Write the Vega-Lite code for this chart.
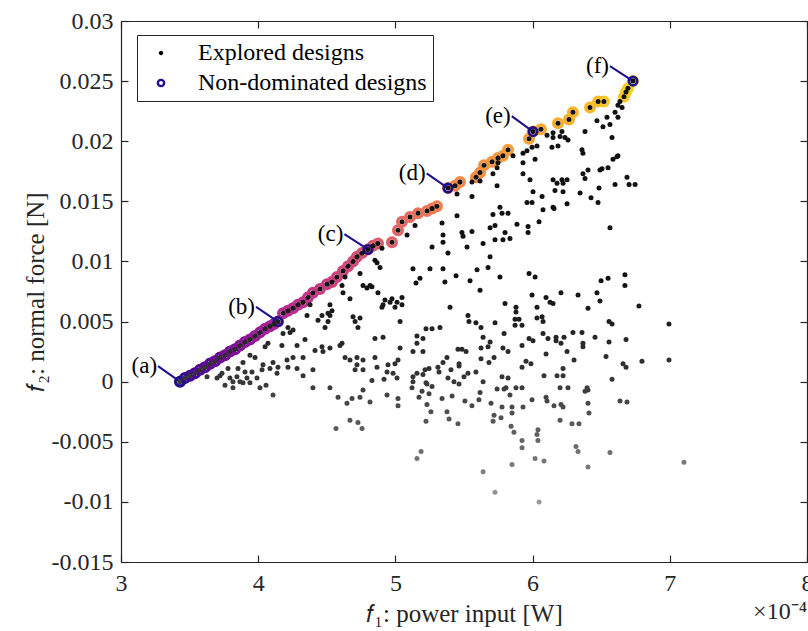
{
  "$schema": "https://vega.github.io/schema/vega-lite/v6.json",
  "width": 686,
  "height": 541,
  "autosize": {"type": "none"},
  "padding": {"left": 121, "top": 21, "right": 1, "bottom": 69},
  "config": {"view": {"stroke": null}, "font": "Liberation Serif"},
  "datasets": {
    "pts": [
      {"f1":3.430,"f2":0.0000,"k":1},{"f1":3.466,"f2":0.0003,"k":2},{"f1":3.503,"f2":0.0005,"k":3},{"f1":3.539,"f2":0.0007,"k":4},{"f1":3.576,"f2":0.0010,"k":5},{"f1":3.612,"f2":0.0012,"k":6},{"f1":3.649,"f2":0.0015,"k":7},{"f1":3.685,"f2":0.0017,"k":8},{"f1":3.722,"f2":0.0020,"k":9},{"f1":3.758,"f2":0.0022,"k":10},{"f1":3.794,"f2":0.0025,"k":11},{"f1":3.831,"f2":0.0027,"k":12},{"f1":3.867,"f2":0.0030,"k":13},{"f1":3.904,"f2":0.0033,"k":14},{"f1":3.940,"f2":0.0035,"k":15},{"f1":3.977,"f2":0.0038,"k":16},{"f1":4.013,"f2":0.0041,"k":17},{"f1":4.050,"f2":0.0044,"k":18},{"f1":4.086,"f2":0.0046,"k":19},{"f1":4.115,"f2":0.0048,"k":20},{"f1":4.144,"f2":0.0050,"k":21},{"f1":4.181,"f2":0.0057,"k":22},{"f1":4.217,"f2":0.0059,"k":23},{"f1":4.254,"f2":0.0061,"k":24},{"f1":4.290,"f2":0.0064,"k":25},{"f1":4.327,"f2":0.0066,"k":26},{"f1":4.363,"f2":0.0070,"k":27},{"f1":4.399,"f2":0.0074,"k":28},{"f1":4.450,"f2":0.0077,"k":29},{"f1":4.501,"f2":0.0081,"k":30},{"f1":4.538,"f2":0.0083,"k":31},{"f1":4.574,"f2":0.0087,"k":32},{"f1":4.618,"f2":0.0092,"k":33},{"f1":4.655,"f2":0.0096,"k":34},{"f1":4.691,"f2":0.0100,"k":35},{"f1":4.720,"f2":0.0104,"k":36},{"f1":4.757,"f2":0.0107,"k":37},{"f1":4.800,"f2":0.0110,"k":38},{"f1":4.837,"f2":0.0113,"k":39},{"f1":4.873,"f2":0.0115,"k":40},{"f1":4.975,"f2":0.0116,"k":41},{"f1":5.019,"f2":0.0126,"k":42},{"f1":5.048,"f2":0.0133,"k":43},{"f1":5.106,"f2":0.0137,"k":44},{"f1":5.165,"f2":0.0140,"k":45},{"f1":5.230,"f2":0.0142,"k":46},{"f1":5.267,"f2":0.0144,"k":47},{"f1":5.303,"f2":0.0146,"k":48},{"f1":5.383,"f2":0.0161,"k":49},{"f1":5.434,"f2":0.0163,"k":50},{"f1":5.471,"f2":0.0166,"k":51},{"f1":5.587,"f2":0.0170,"k":52},{"f1":5.617,"f2":0.0174,"k":53},{"f1":5.646,"f2":0.0180,"k":54},{"f1":5.704,"f2":0.0183,"k":55},{"f1":5.748,"f2":0.0186,"k":56},{"f1":5.784,"f2":0.0188,"k":57},{"f1":5.821,"f2":0.0193,"k":58},{"f1":5.974,"f2":0.0202,"k":59},{"f1":6.003,"f2":0.0208,"k":60},{"f1":6.061,"f2":0.0210,"k":61},{"f1":6.185,"f2":0.0215,"k":62},{"f1":6.265,"f2":0.0218,"k":63},{"f1":6.294,"f2":0.0224,"k":64},{"f1":6.418,"f2":0.0228,"k":65},{"f1":6.477,"f2":0.0233,"k":66},{"f1":6.520,"f2":0.0233,"k":67},{"f1":6.666,"f2":0.0237,"k":68},{"f1":6.681,"f2":0.0241,"k":69},{"f1":6.695,"f2":0.0244,"k":70},{"f1":6.732,"f2":0.0250,"k":71},
      {"f1":3.627,"f2":0.0004},{"f1":3.700,"f2":0.0003},{"f1":3.736,"f2":0.0007},{"f1":3.794,"f2":0.0003},{"f1":3.816,"f2":0.0000},{"f1":3.845,"f2":0.0004},{"f1":3.853,"f2":0.0011},{"f1":3.889,"f2":0.0016},{"f1":3.940,"f2":0.0022},{"f1":3.977,"f2":0.0020},{"f1":3.918,"f2":0.0003},{"f1":3.940,"f2":-0.0001},{"f1":3.889,"f2":-0.0001},{"f1":3.816,"f2":-0.0005},{"f1":3.867,"f2":0.0000},{"f1":3.991,"f2":0.0003},{"f1":4.028,"f2":0.0010},{"f1":4.035,"f2":0.0014},{"f1":4.086,"f2":0.0011},{"f1":4.108,"f2":0.0016},{"f1":4.144,"f2":0.0012},{"f1":4.137,"f2":0.0007},{"f1":4.210,"f2":0.0018},{"f1":4.217,"f2":0.0012},{"f1":4.254,"f2":0.0020},{"f1":4.283,"f2":0.0011},{"f1":4.327,"f2":0.0005},{"f1":4.327,"f2":0.0020},{"f1":4.399,"f2":0.0010},{"f1":4.108,"f2":-0.0011},{"f1":4.050,"f2":0.0029},{"f1":4.071,"f2":0.0032},{"f1":4.173,"f2":0.0030},{"f1":4.181,"f2":0.0040},{"f1":4.232,"f2":0.0041},{"f1":4.217,"f2":0.0045},{"f1":4.254,"f2":0.0043},{"f1":4.283,"f2":0.0030},{"f1":4.341,"f2":0.0035},{"f1":4.414,"f2":0.0026},{"f1":4.465,"f2":0.0029},{"f1":4.472,"f2":0.0025},{"f1":4.523,"f2":0.0028},{"f1":4.596,"f2":0.0030},{"f1":4.611,"f2":0.0032},{"f1":4.633,"f2":0.0020},{"f1":4.669,"f2":0.0018},{"f1":4.720,"f2":0.0020},{"f1":4.764,"f2":0.0018},{"f1":4.720,"f2":0.0014},{"f1":4.706,"f2":0.0010},{"f1":4.764,"f2":0.0010},{"f1":4.851,"f2":0.0020},{"f1":4.866,"f2":0.0012},{"f1":4.829,"f2":0.0001},{"f1":4.939,"f2":0.0008},{"f1":4.946,"f2":0.0014},{"f1":5.012,"f2":0.0003},{"f1":5.019,"f2":0.0018},{"f1":5.034,"f2":0.0028},{"f1":4.910,"f2":0.0037},{"f1":4.851,"f2":0.0036},{"f1":4.727,"f2":0.0045},{"f1":4.706,"f2":0.0050},{"f1":4.742,"f2":0.0053},{"f1":4.691,"f2":0.0054},{"f1":4.487,"f2":0.0045},{"f1":4.509,"f2":0.0050},{"f1":4.523,"f2":0.0055},{"f1":4.538,"f2":0.0059},{"f1":4.436,"f2":0.0051},{"f1":4.356,"f2":0.0055},{"f1":4.378,"f2":0.0064},{"f1":4.523,"f2":-0.0005},{"f1":4.399,"f2":-0.0005},{"f1":4.582,"f2":-0.0013},{"f1":4.647,"f2":-0.0018},{"f1":4.684,"f2":-0.0014},{"f1":4.742,"f2":-0.0013},{"f1":4.764,"f2":-0.0007},{"f1":4.815,"f2":-0.0017},{"f1":4.939,"f2":-0.0011},{"f1":5.019,"f2":-0.0014},{"f1":5.019,"f2":-0.0020},{"f1":4.669,"f2":-0.0032},{"f1":4.727,"f2":-0.0034},{"f1":4.757,"f2":-0.0039},{"f1":4.567,"f2":-0.0039},{"f1":4.611,"f2":0.0080},{"f1":4.618,"f2":0.0074},{"f1":4.669,"f2":0.0069},{"f1":4.742,"f2":0.0090},{"f1":4.764,"f2":0.0080},{"f1":4.793,"f2":0.0078},{"f1":4.866,"f2":0.0099},{"f1":4.873,"f2":0.0074},{"f1":4.910,"f2":0.0064},{"f1":4.924,"f2":0.0068},{"f1":4.975,"f2":0.0069},{"f1":5.012,"f2":0.0066},{"f1":5.034,"f2":0.0050},{"f1":4.815,"f2":0.0080},{"f1":3.722,"f2":0.0005},{"f1":3.758,"f2":-0.0003},{"f1":3.904,"f2":0.0008},{"f1":3.780,"f2":0.0011},{"f1":3.955,"f2":0.0008},{"f1":4.013,"f2":-0.0005},{"f1":4.057,"f2":-0.0003},
      {"f1":5.340,"f2":0.0132},{"f1":5.347,"f2":0.0122},{"f1":5.347,"f2":0.0116},{"f1":5.267,"f2":0.0112},{"f1":5.383,"f2":0.0107},{"f1":5.128,"f2":0.0094},{"f1":5.252,"f2":0.0094},{"f1":5.347,"f2":0.0094},{"f1":5.179,"f2":0.0086},{"f1":5.150,"f2":0.0082},{"f1":5.361,"f2":0.0083},{"f1":4.851,"f2":0.0101},{"f1":4.888,"f2":0.0095},{"f1":4.633,"f2":0.0087},{"f1":4.829,"f2":0.0079},{"f1":4.961,"f2":0.0066},{"f1":4.997,"f2":0.0062},{"f1":5.048,"f2":0.0070},{"f1":5.048,"f2":0.0064},{"f1":5.085,"f2":0.0122},{"f1":5.143,"f2":0.0130},{"f1":4.523,"f2":0.0064},{"f1":4.509,"f2":0.0057},{"f1":4.465,"f2":0.0055},
      {"f1":6.637,"f2":0.0233},{"f1":6.622,"f2":0.0230},{"f1":6.652,"f2":0.0228},{"f1":6.601,"f2":0.0224},{"f1":6.622,"f2":0.0220},{"f1":6.542,"f2":0.0220},{"f1":6.469,"f2":0.0217},{"f1":6.513,"f2":0.0212},{"f1":6.564,"f2":0.0214},{"f1":6.382,"f2":0.0208},{"f1":6.579,"f2":0.0203},{"f1":6.149,"f2":0.0207},{"f1":6.149,"f2":0.0203},{"f1":6.214,"f2":0.0208},{"f1":6.200,"f2":0.0204},{"f1":6.236,"f2":0.0203},{"f1":6.258,"f2":0.0201},{"f1":6.105,"f2":0.0205},{"f1":6.032,"f2":0.0196},{"f1":5.996,"f2":0.0195},{"f1":6.141,"f2":0.0195},{"f1":6.185,"f2":0.0196},{"f1":5.959,"f2":0.0192},{"f1":5.930,"f2":0.0190},{"f1":6.018,"f2":0.0185},{"f1":5.930,"f2":0.0182},{"f1":5.857,"f2":0.0188},{"f1":5.748,"f2":0.0182},{"f1":5.741,"f2":0.0178},{"f1":5.711,"f2":0.0173},{"f1":5.617,"f2":0.0167},{"f1":5.558,"f2":0.0166},{"f1":5.449,"f2":0.0156},{"f1":5.558,"f2":0.0154},{"f1":5.741,"f2":0.0163},{"f1":5.930,"f2":0.0173},{"f1":5.981,"f2":0.0168},{"f1":6.003,"f2":0.0158},{"f1":6.069,"f2":0.0154},{"f1":5.959,"f2":0.0149},{"f1":5.996,"f2":0.0149},{"f1":6.076,"f2":0.0143},{"f1":6.149,"f2":0.0145},{"f1":6.149,"f2":0.0168},{"f1":6.178,"f2":0.0165},{"f1":6.214,"f2":0.0168},{"f1":6.222,"f2":0.0165},{"f1":6.251,"f2":0.0168},{"f1":6.163,"f2":0.0159},{"f1":6.222,"f2":0.0158},{"f1":6.346,"f2":0.0157},{"f1":6.367,"f2":0.0173},{"f1":6.382,"f2":0.0169},{"f1":6.404,"f2":0.0176},{"f1":6.360,"f2":0.0193},{"f1":6.367,"f2":0.0190},{"f1":6.426,"f2":0.0153},{"f1":6.477,"f2":0.0149},{"f1":6.484,"f2":0.0161},{"f1":6.491,"f2":0.0176},{"f1":6.506,"f2":0.0177},{"f1":6.550,"f2":0.0178},{"f1":6.601,"f2":0.0164},{"f1":6.586,"f2":0.0185},{"f1":6.615,"f2":0.0187},{"f1":6.622,"f2":0.0188},{"f1":6.688,"f2":0.0170},{"f1":6.703,"f2":0.0164},{"f1":6.747,"f2":0.0164},{"f1":6.564,"f2":0.0128},{"f1":6.251,"f2":0.0148},{"f1":5.449,"f2":0.0138},{"f1":5.485,"f2":0.0124},{"f1":5.493,"f2":0.0121},{"f1":5.558,"f2":0.0125},{"f1":5.522,"f2":0.0112},{"f1":5.639,"f2":0.0115},{"f1":5.690,"f2":0.0128},{"f1":5.690,"f2":0.0104},{"f1":5.711,"f2":0.0139},{"f1":5.726,"f2":0.0130},{"f1":5.762,"f2":0.0145},{"f1":5.726,"f2":0.0118},{"f1":5.799,"f2":0.0124},{"f1":5.784,"f2":0.0118},{"f1":5.835,"f2":0.0119},{"f1":5.777,"f2":0.0140},{"f1":5.821,"f2":0.0140},{"f1":5.886,"f2":0.0131},{"f1":5.967,"f2":0.0129},{"f1":5.967,"f2":0.0124},{"f1":6.047,"f2":0.0133},{"f1":6.156,"f2":0.0144},{"f1":5.595,"f2":0.0093},{"f1":5.544,"f2":0.0084},{"f1":5.442,"f2":0.0088},{"f1":5.675,"f2":0.0095},{"f1":5.762,"f2":0.0087},{"f1":5.974,"f2":0.0090},{"f1":6.018,"f2":0.0087},{"f1":5.617,"f2":0.0076},{"f1":5.996,"f2":0.0072},{"f1":6.098,"f2":0.0070},{"f1":6.207,"f2":0.0074},{"f1":6.331,"f2":0.0072},{"f1":6.469,"f2":0.0074},{"f1":6.499,"f2":0.0084},{"f1":6.550,"f2":0.0086},{"f1":6.673,"f2":0.0089},{"f1":6.673,"f2":0.0080},{"f1":4.902,"f2":0.0111},
      {"f1":4.902,"f2":0.0062},{"f1":5.398,"f2":0.0062},{"f1":5.799,"f2":0.0065},{"f1":5.879,"f2":0.0062},{"f1":5.879,"f2":0.0058},{"f1":6.127,"f2":0.0066},{"f1":6.149,"f2":0.0065},{"f1":6.404,"f2":0.0061},{"f1":6.491,"f2":0.0067},{"f1":6.775,"f2":0.0063},{"f1":6.994,"f2":0.0048},{"f1":6.032,"f2":0.0062},{"f1":5.529,"f2":0.0055},{"f1":5.536,"f2":0.0050},{"f1":5.587,"f2":0.0049},{"f1":5.624,"f2":0.0045},{"f1":5.726,"f2":0.0049},{"f1":5.872,"f2":0.0052},{"f1":5.901,"f2":0.0052},{"f1":5.872,"f2":0.0047},{"f1":5.923,"f2":0.0047},{"f1":6.032,"f2":0.0053},{"f1":6.069,"f2":0.0054},{"f1":6.076,"f2":0.0050},{"f1":5.792,"f2":0.0040},{"f1":5.639,"f2":0.0037},{"f1":5.690,"f2":0.0033},{"f1":5.624,"f2":0.0028},{"f1":5.675,"f2":0.0029},{"f1":5.821,"f2":0.0025},{"f1":5.784,"f2":0.0028},{"f1":5.923,"f2":0.0030},{"f1":5.974,"f2":0.0036},{"f1":6.003,"f2":0.0034},{"f1":6.076,"f2":0.0040},{"f1":6.112,"f2":0.0036},{"f1":6.171,"f2":0.0037},{"f1":6.171,"f2":0.0034},{"f1":6.207,"f2":0.0032},{"f1":6.229,"f2":0.0037},{"f1":6.294,"f2":0.0041},{"f1":6.360,"f2":0.0041},{"f1":6.367,"f2":0.0032},{"f1":6.367,"f2":0.0029},{"f1":6.455,"f2":0.0037},{"f1":6.557,"f2":0.0050},{"f1":6.579,"f2":0.0048},{"f1":6.557,"f2":0.0033},{"f1":6.681,"f2":0.0035},{"f1":5.223,"f2":0.0044},{"f1":5.267,"f2":0.0044},{"f1":5.325,"f2":0.0045},{"f1":5.157,"f2":0.0038},{"f1":5.201,"f2":0.0036},{"f1":5.157,"f2":0.0032},{"f1":5.128,"f2":0.0025},{"f1":5.201,"f2":0.0025},{"f1":5.456,"f2":0.0027},{"f1":5.485,"f2":0.0027},{"f1":5.515,"f2":0.0025},{"f1":5.624,"f2":0.0019},{"f1":5.682,"f2":0.0016},{"f1":5.719,"f2":0.0020},{"f1":5.376,"f2":0.0020},{"f1":5.347,"f2":0.0016},{"f1":5.464,"f2":0.0015},{"f1":5.464,"f2":0.0013},{"f1":4.997,"f2":0.0015},{"f1":4.917,"f2":0.0002},{"f1":4.983,"f2":0.0007},{"f1":5.157,"f2":0.0007},{"f1":5.201,"f2":0.0006},{"f1":5.216,"f2":0.0010},{"f1":5.245,"f2":0.0011},{"f1":5.310,"f2":0.0012},{"f1":5.318,"f2":0.0008},{"f1":5.405,"f2":0.0010},{"f1":5.383,"f2":0.0003},{"f1":5.427,"f2":0.0000},{"f1":5.464,"f2":-0.0002},{"f1":5.529,"f2":0.0007},{"f1":5.500,"f2":0.0004},{"f1":5.587,"f2":0.0008},{"f1":5.639,"f2":0.0000},{"f1":5.128,"f2":0.0004},{"f1":5.128,"f2":0.0000},{"f1":5.230,"f2":-0.0002},{"f1":5.267,"f2":-0.0004},{"f1":5.121,"f2":-0.0005},{"f1":5.777,"f2":0.0004},{"f1":5.821,"f2":0.0003},{"f1":5.923,"f2":0.0012},{"f1":5.952,"f2":0.0017},{"f1":5.988,"f2":0.0015},{"f1":6.083,"f2":0.0005},{"f1":6.178,"f2":0.0005},{"f1":6.222,"f2":0.0005},{"f1":6.222,"f2":0.0011},{"f1":6.251,"f2":0.0025},{"f1":6.302,"f2":0.0018},{"f1":6.098,"f2":0.0023},{"f1":6.200,"f2":-0.0005},{"f1":6.258,"f2":-0.0005},{"f1":6.397,"f2":-0.0005},{"f1":6.535,"f2":0.0021},{"f1":6.659,"f2":0.0015},{"f1":6.681,"f2":0.0012},{"f1":6.579,"f2":0.0002},{"f1":6.797,"f2":0.0017},{"f1":6.994,"f2":0.0018},{"f1":5.741,"f2":-0.0006},{"f1":5.806,"f2":-0.0005},{"f1":5.879,"f2":-0.0005},{"f1":5.923,"f2":-0.0005},
      {"f1":5.194,"f2":-0.0008},{"f1":5.172,"f2":-0.0013},{"f1":5.245,"f2":-0.0010},{"f1":5.223,"f2":-0.0001},{"f1":5.230,"f2":-0.0019},{"f1":5.259,"f2":-0.0025},{"f1":5.223,"f2":-0.0033},{"f1":5.376,"f2":-0.0025},{"f1":5.391,"f2":-0.0031},{"f1":5.456,"f2":-0.0035},{"f1":5.340,"f2":-0.0014},{"f1":5.413,"f2":-0.0012},{"f1":5.507,"f2":-0.0016},{"f1":5.558,"f2":-0.0020},{"f1":5.609,"f2":-0.0015},{"f1":5.617,"f2":-0.0009},{"f1":5.697,"f2":-0.0018},{"f1":5.792,"f2":-0.0006},{"f1":5.835,"f2":-0.0011},{"f1":5.777,"f2":-0.0021},{"f1":5.850,"f2":-0.0021},{"f1":5.930,"f2":-0.0021},{"f1":5.719,"f2":-0.0028},{"f1":5.712,"f2":-0.0033},{"f1":5.770,"f2":-0.0030},{"f1":5.850,"f2":-0.0026},{"f1":5.843,"f2":-0.0037},{"f1":5.864,"f2":-0.0042},{"f1":5.996,"f2":-0.0015},{"f1":6.098,"f2":-0.0013},{"f1":6.105,"f2":-0.0016},{"f1":6.156,"f2":-0.0020},{"f1":6.207,"f2":-0.0019},{"f1":6.222,"f2":-0.0021},{"f1":6.200,"f2":-0.0032},{"f1":6.287,"f2":-0.0035},{"f1":6.338,"f2":-0.0035},{"f1":6.382,"f2":-0.0008},{"f1":6.404,"f2":-0.0007},{"f1":6.404,"f2":-0.0018},{"f1":6.411,"f2":-0.0026},{"f1":6.039,"f2":-0.0040},{"f1":6.032,"f2":-0.0044},{"f1":6.039,"f2":-0.0049},{"f1":5.923,"f2":-0.0049},{"f1":5.923,"f2":-0.0055},{"f1":6.018,"f2":-0.0064},{"f1":6.083,"f2":-0.0066},{"f1":6.316,"f2":-0.0054},{"f1":6.331,"f2":-0.0058},{"f1":6.564,"f2":-0.0059},{"f1":6.404,"f2":-0.0071},{"f1":5.850,"f2":-0.0069},{"f1":5.639,"f2":-0.0075},{"f1":5.726,"f2":-0.0092},{"f1":6.047,"f2":-0.0100},{"f1":7.103,"f2":-0.0067},{"f1":5.187,"f2":-0.0058},{"f1":5.157,"f2":-0.0064},{"f1":6.637,"f2":-0.0016},{"f1":6.688,"f2":-0.0017}
    ],
    "ann": [
      {"lab":"(a)","x0":3.270,"y0":0.00129,"x1":3.430,"y1":0.0000},
      {"lab":"(b)","x0":3.984,"y0":0.00622,"x1":4.144,"y1":0.0050},
      {"lab":"(c)","x0":4.628,"y0":0.01227,"x1":4.800,"y1":0.0110},
      {"lab":"(d)","x0":5.228,"y0":0.01732,"x1":5.383,"y1":0.0161},
      {"lab":"(e)","x0":5.848,"y0":0.02209,"x1":6.003,"y1":0.0208},
      {"lab":"(f)","x0":6.564,"y0":0.02625,"x1":6.732,"y1":0.0250}
    ],
    "leg": [
      {"series":"Explored designs"},
      {"series":"Non-dominated designs"}
    ]
  },
  "resolve": {"axis": {"x": "independent", "y": "independent"}},
  "layer": [
    {
      "data": {"name": "pts"},
      "transform": [{"filter": "datum.k != null"}],
      "mark": {"type": "point", "filled": false, "size": 76, "strokeWidth": 3.3, "opacity": 1},
      "encoding": {
        "x": {"field": "f1", "type": "quantitative", "scale": {"domain": [3, 8], "nice": false, "zero": false},
          "axis": {"orient": "bottom", "values": [3, 4, 5, 6, 7, 8], "title": "𝑓₁: power input [W]", "grid": false,
            "tickSize": -7, "labelPadding": 16, "domainColor": "#262626", "domainWidth": 1.2, "tickColor": "#262626", "tickWidth": 1.2,
            "labelColor": "#262626", "labelFont": "Liberation Serif", "labelFontSize": 24, "labelFlush": false,
            "titleFont": "Liberation Serif", "titleFontSize": 25, "titleFontWeight": "normal", "titleColor": "#262626", "titlePadding": 6}},
        "y": {"field": "f2", "type": "quantitative", "scale": {"domain": [-0.015, 0.03], "nice": false, "zero": false},
          "axis": {"orient": "left", "values": [-0.015, -0.01, -0.005, 0, 0.005, 0.01, 0.015, 0.02, 0.025, 0.03], "labelExpr": "'' + datum.value",
            "title": "𝑓₂: normal force [N]", "grid": false,
            "tickSize": -7, "labelPadding": 15, "domainColor": "#262626", "domainWidth": 1.2, "tickColor": "#262626", "tickWidth": 1.2,
            "labelColor": "#262626", "labelFont": "Liberation Serif", "labelFontSize": 24, "labelFlush": false,
            "titleFont": "Liberation Serif", "titleFontSize": 25, "titleFontWeight": "normal", "titleColor": "#262626", "titlePadding": 3}},
        "stroke": {"field": "k", "type": "quantitative",
          "scale": {"domain": [1, 21, 38, 49, 60, 71], "range": ["#2b0a91", "#b0299a", "#d45670", "#f0844c", "#f9a332", "#f6d525"]},
          "legend": null}
      }
    },
    {
      "data": {"name": "ann"},
      "mark": {"type": "rule", "color": "#1f0f8c", "strokeWidth": 2},
      "encoding": {
        "x": {"field": "x0", "type": "quantitative", "scale": {"domain": [3, 8], "nice": false, "zero": false}, "axis": null},
        "y": {"field": "y0", "type": "quantitative", "scale": {"domain": [-0.015, 0.03], "nice": false, "zero": false}, "axis": null},
        "x2": {"field": "x1"},
        "y2": {"field": "y1"}
      }
    },
    {
      "data": {"name": "ann"},
      "mark": {"type": "point", "filled": false, "size": 72, "strokeWidth": 2.6, "color": "#1f0f8c", "opacity": 1},
      "encoding": {
        "x": {"field": "x1", "type": "quantitative", "scale": {"domain": [3, 8], "nice": false, "zero": false}, "axis": null},
        "y": {"field": "y1", "type": "quantitative", "scale": {"domain": [-0.015, 0.03], "nice": false, "zero": false}, "axis": null}
      }
    },
    {
      "data": {"name": "ann"},
      "mark": {"type": "text", "align": "right", "baseline": "middle", "dx": -1, "fontSize": 23, "font": "Liberation Serif", "color": "#000000"},
      "encoding": {
        "x": {"field": "x0", "type": "quantitative", "scale": {"domain": [3, 8], "nice": false, "zero": false}, "axis": null},
        "y": {"field": "y0", "type": "quantitative", "scale": {"domain": [-0.015, 0.03], "nice": false, "zero": false}, "axis": null},
        "text": {"field": "lab"}
      }
    },
    {
      "data": {"name": "pts"},
      "mark": {"type": "point", "filled": true, "size": 25, "strokeWidth": 0, "opacity": 1, "shape": "circle"},
      "encoding": {
        "x": {"field": "f1", "type": "quantitative", "scale": {"domain": [3, 8], "nice": false, "zero": false},
          "axis": {"orient": "top", "values": [3, 4, 5, 6, 7, 8], "labels": false, "title": null, "grid": false,
            "tickSize": -7, "domainColor": "#262626", "domainWidth": 1.2, "tickColor": "#262626", "tickWidth": 1.2}},
        "y": {"field": "f2", "type": "quantitative", "scale": {"domain": [-0.015, 0.03], "nice": false, "zero": false},
          "axis": {"orient": "right", "values": [-0.015, -0.01, -0.005, 0, 0.005, 0.01, 0.015, 0.02, 0.025, 0.03], "labels": false, "title": null, "grid": false,
            "tickSize": -7, "domainColor": "#262626", "domainWidth": 1.2, "tickColor": "#262626", "tickWidth": 1.2}},
        "fill": {"field": "f2", "type": "quantitative",
          "scale": {"domain": [-0.01, 0, 0.008], "range": ["#9a9a9a", "#383838", "#111111"], "clamp": true},
          "legend": null}
      }
    },
    {
      "data": {"name": "leg"},
      "mark": {"type": "point", "filled": false, "size": 40, "strokeWidth": 2.4, "opacity": 1},
      "encoding": {
        "x": {"field": "f1", "type": "quantitative", "scale": {"domain": [3, 8], "nice": false, "zero": false}, "axis": null},
        "y": {"field": "f2", "type": "quantitative", "scale": {"domain": [-0.015, 0.03], "nice": false, "zero": false}, "axis": null},
        "color": {"field": "series", "type": "nominal",
          "scale": {"domain": ["Explored designs", "Non-dominated designs"], "range": ["#000000", "#1f0f8c"]},
          "legend": {"orient": "none", "legendX": 16, "legendY": 14, "title": null, "padding": 6, "symbolOffset": 6, "labelOffset": 25,
            "labelFont": "Liberation Serif", "labelFontSize": 24, "labelColor": "#000000", "strokeColor": "#262626", "fillColor": "#ffffff",
            "rowPadding": 6, "symbolStrokeWidth": 2.4, "symbolSize": 40, "labelLimit": 400, "cornerRadius": 0}},
        "shape": {"field": "series", "type": "nominal",
          "scale": {"domain": ["Explored designs", "Non-dominated designs"], "range": ["M-0.33,0A0.33,0.33 0 1,0 0.33,0A0.33,0.33 0 1,0 -0.33,0Z", "circle"]}}
      }
    },
    {
      "data": {"values": [{}]},
      "mark": {"type": "text", "align": "right", "baseline": "alphabetic", "dy": 57, "fontSize": 24, "font": "Liberation Serif", "color": "#262626"},
      "encoding": {
        "x": {"datum": 8, "type": "quantitative", "scale": {"domain": [3, 8], "nice": false, "zero": false}, "axis": null},
        "y": {"datum": -0.015, "type": "quantitative", "scale": {"domain": [-0.015, 0.03], "nice": false, "zero": false}, "axis": null},
        "text": {"value": "×10⁻⁴"}
      }
    }
  ]
}
